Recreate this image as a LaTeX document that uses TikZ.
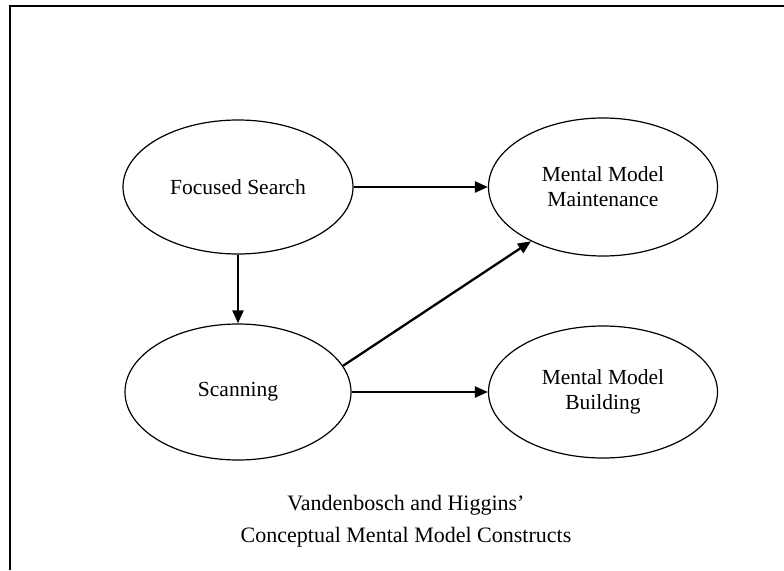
\documentclass[tikz,border=0pt]{standalone}
\usepackage{fontspec}
\setmainfont{Liberation Serif}
\usetikzlibrary{shapes.geometric,arrows.meta}

\tikzset{
  construct/.style={ellipse, draw, line width=1.2pt, inner sep=0pt,
    align=center, font=\fontsize{21.5}{25}\selectfont},
  link/.style={line width=2.3pt, -{Triangle[length=13pt,width=11pt]}},
  frameline/.style={line width=1.8pt}
}

\begin{document}
\begin{tikzpicture}[x=1pt,y=-1pt]
  \useasboundingbox (0,0) rectangle (784,570);

  % open frame: top and left edges
  \coordinate (fa) at (10,570);
  \coordinate (fb) at (10,6);
  \coordinate (fc) at (784,6);
  \draw[frameline] (fa) -- (fb) -- (fc);

  % constructs
  \node[construct, minimum width=230pt, minimum height=134pt] (fs)  at (238,187) {Focused Search};
  \node[construct, minimum width=226pt, minimum height=136pt] (sc)  at (238,392) {Scanning};
  \node[construct, minimum width=229pt, minimum height=138pt] (mmm) at (603,187) {Mental Model\\Maintenance};
  \node[construct, minimum width=229pt, minimum height=132pt] (mmb) at (603,392) {Mental Model\\Building};

  % relations
  \draw[link] (fs.east) -- (mmm.west);
  \draw[link] (fs.south) -- (sc.north);
  \draw[link] (sc.14) -- (mmm.217);
  \draw[link] (sc.east) -- (mmb.west);

  % caption
  \node[align=center, font=\fontsize{22}{32}\selectfont] (cap) at (406,521)
    {Vandenbosch and Higgins'\\Conceptual Mental Model Constructs};
\end{tikzpicture}
\end{document}
